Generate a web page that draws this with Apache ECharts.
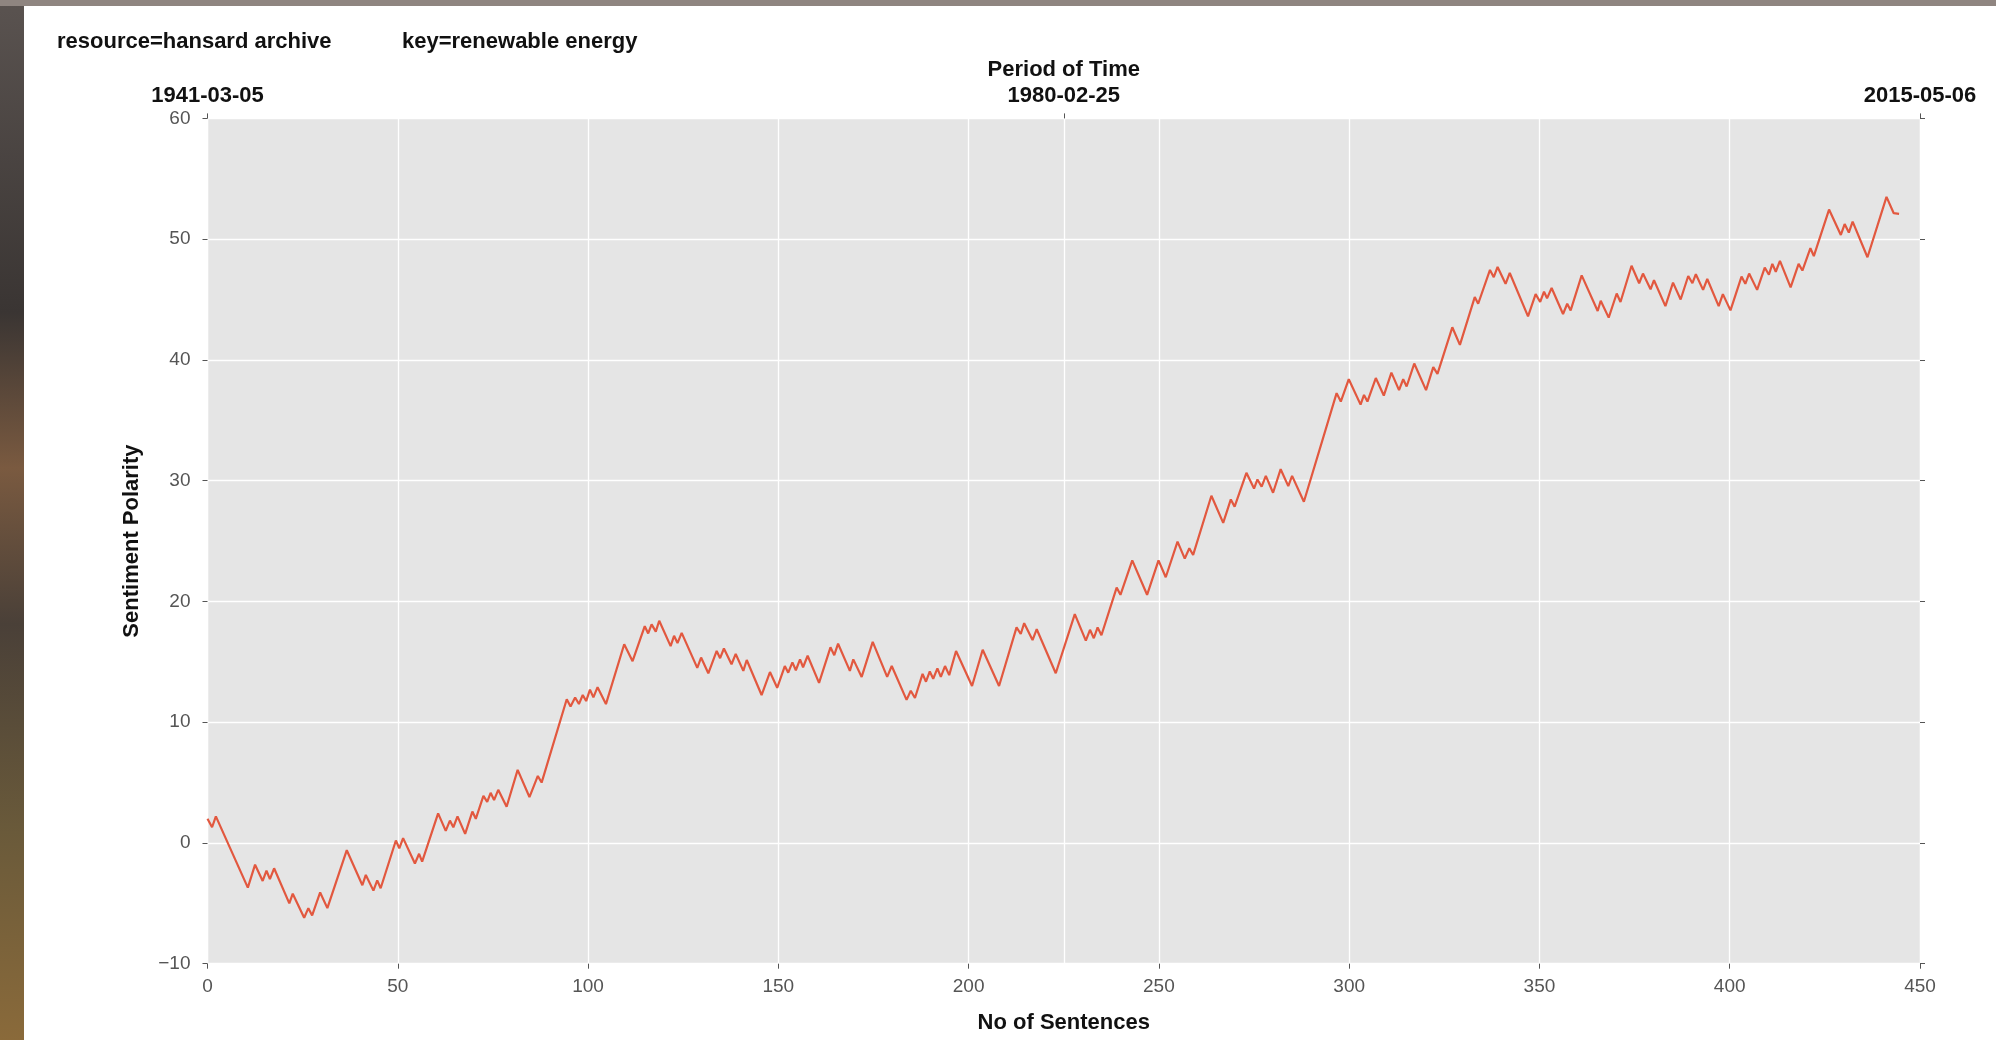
<!DOCTYPE html>
<html>
<head>
<meta charset="utf-8">
<script src="https://cdn.jsdelivr.net/npm/echarts@6/dist/echarts.min.js"></script>
<style>
html,body{margin:0;padding:0;background:#fff;}
#chart{width:1996px;height:1040px;}
</style>
</head>
<body>
<div id="chart"></div>
<script>
// Sentence index (vertices of the cumulative polarity line)
const sentenceIndex = [
0,1.2,2.2,10.6,12.5,14.5,15.5,16.4,17.5,21.5,22.4,25.4,26.5,27.5,29.6,31.5,36.6,40.7,41.6,43.6,44.6,45.5,
49.5,50.4,51.4,54.5,55.6,56.4,60.6,62.6,63.7,64.6,65.7,67.7,69.6,70.5,72.5,73.5,74.4,75.3,76.4,78.6,81.5,84.6,86.8,87.8,
94.4,95.4,96.6,97.6,98.6,99.5,100.5,101.4,102.5,104.7,109.5,111.7,114.9,115.8,116.7,117.8,118.7,121.7,122.6,123.5,124.6,
128.7,129.7,131.6,133.8,134.7,135.7,137.7,138.8,140.8,141.7,145.6,147.8,149.7,151.7,152.6,153.7,154.6,155.7,156.5,157.7,
160.7,163.7,164.7,165.7,168.8,169.7,171.9,174.8,178.6,179.8,183.7,184.8,185.9,187.9,188.8,189.8,190.7,191.8,192.7,193.8,194.9,
196.7,200.9,203.7,208.0,212.6,213.7,214.6,216.8,217.9,222.9,227.9,230.8,231.9,232.9,233.9,234.9,238.9,239.9,243.0,246.9,
249.9,251.8,254.9,256.8,258.0,259.0,263.8,266.9,268.9,269.9,273.0,275.0,275.9,277.0,278.1,280.0,282.0,284.0,285.0,288.1,
296.7,297.8,299.9,303.0,303.9,304.8,307.0,309.1,311.1,313.1,314.2,315.1,317.1,320.2,322.1,323.2,327.1,329.1,333.0,333.9,
337.0,338.0,339.0,341.1,342.2,347.0,349.0,350.2,351.2,352.0,353.2,356.2,357.3,358.2,361.1,365.3,366.1,368.2,370.3,371.3,
374.2,376.2,377.2,379.2,380.1,383.1,385.1,387.1,389.1,390.2,391.1,393.0,394.1,397.1,398.2,400.2,403.1,404.1,405.1,407.2,
409.2,410.3,411.2,412.1,413.2,416.0,418.1,419.1,421.2,422.1,426.1,429.2,430.2,431.3,432.3,436.2,441.2,443.1,444.5
];
// Sentiment polarity at those vertices
const polarity = [
2.0,1.3,2.2,-3.7,-1.8,-3.15,-2.3,-3.0,-2.1,-5.0,-4.2,-6.2,-5.4,-6.0,-4.1,-5.4,-0.6,-3.5,-2.65,-3.95,-3.1,-3.75,
0.2,-0.45,0.4,-1.7,-0.9,-1.55,2.45,1.0,1.85,1.3,2.2,0.75,2.6,2.0,3.9,3.4,4.15,3.55,4.4,3.0,6.05,3.8,5.55,5.0,
11.9,11.3,12.05,11.5,12.25,11.75,12.7,12.05,12.9,11.5,16.45,15.05,17.95,17.35,18.1,17.5,18.4,16.3,17.15,16.55,17.4,
14.5,15.35,14.05,15.9,15.3,16.1,14.8,15.65,14.25,15.15,12.25,14.15,12.85,14.65,14.1,14.95,14.3,15.2,14.55,15.5,
13.25,16.2,15.55,16.5,14.25,15.2,13.75,16.65,13.75,14.65,11.85,12.6,12.0,14.0,13.35,14.2,13.6,14.45,13.75,14.65,13.9,
15.9,13.0,16.0,13.0,17.85,17.3,18.2,16.8,17.7,14.05,18.95,16.75,17.65,16.95,17.85,17.2,21.15,20.55,23.4,20.55,
23.4,22.0,24.95,23.55,24.4,23.85,28.75,26.5,28.45,27.85,30.65,29.35,30.1,29.5,30.4,29.0,30.95,29.55,30.4,28.25,
37.25,36.55,38.4,36.3,37.1,36.55,38.5,37.05,38.95,37.5,38.4,37.8,39.7,37.5,39.4,38.85,42.7,41.25,45.2,44.65,
47.45,46.85,47.7,46.3,47.2,43.6,45.45,44.8,45.65,45.1,45.95,43.8,44.65,44.1,47.0,44.05,44.9,43.5,45.5,44.8,
47.8,46.35,47.15,45.85,46.6,44.45,46.4,45.0,46.95,46.35,47.1,45.8,46.7,44.45,45.45,44.1,46.9,46.3,47.15,45.8,
47.65,47.05,47.95,47.3,48.2,46.0,47.95,47.4,49.25,48.6,52.45,50.35,51.25,50.55,51.45,48.5,53.5,52.15,52.1
];
// Top (time) axis
const timeTickPositions = [0, 225, 450];
const timeTickLabels = ['1941-03-05', '1980-02-25', '2015-05-06'];
const headerTexts = ['resource=hansard archive', 'key=renewable energy'];

const FONT = '"Liberation Sans", Arial, Helvetica, sans-serif';
const chart = echarts.init(document.getElementById('chart'), null, {renderer: 'canvas'});
const lineData = sentenceIndex.map((x, i) => [x, polarity[i]]);

const tickStyle = {show: true, inside: false, length: 5, lineStyle: {color: '#555', width: 1}};
const noLine = {show: false, onZero: false};

chart.setOption({
  animation: false,
  backgroundColor: '#ffffff',
  title: [
    {text: headerTexts[0], left: 57, top: 31, padding: 0,
     textStyle: {fontFamily: FONT, fontSize: 22, fontWeight: 'bold', color: '#111'}},
    {text: headerTexts[1], left: 402, top: 31, padding: 0,
     textStyle: {fontFamily: FONT, fontSize: 22, fontWeight: 'bold', color: '#111'}}
  ],
  grid: {left: 207.5, right: 76, top: 118.4, bottom: 76.3, show: true,
         backgroundColor: '#E5E5E5', borderWidth: 0},
  xAxis: [
    {type: 'value', position: 'bottom', min: 0, max: 450, interval: 50,
     name: 'No of Sentences', nameLocation: 'middle', nameGap: 48,
     nameTextStyle: {fontFamily: FONT, fontSize: 22, fontWeight: 'bold', color: '#111'},
     axisLine: noLine, axisTick: tickStyle,
     axisLabel: {fontFamily: FONT, fontSize: 19, color: '#555', margin: 14},
     splitLine: {show: true, lineStyle: {color: '#ffffff', width: 1.3}}},
    {type: 'value', position: 'top', min: 0, max: 450, interval: 225,
     name: 'Period of Time', nameLocation: 'middle', nameGap: 32,
     nameTextStyle: {fontFamily: FONT, fontSize: 22, fontWeight: 'bold', color: '#111'},
     axisLine: noLine, axisTick: tickStyle,
     axisLabel: {fontFamily: FONT, fontSize: 22, fontWeight: 'bold', color: '#111', margin: 11,
       formatter: v => timeTickLabels[timeTickPositions.indexOf(v)] || ''},
     splitLine: {show: true, lineStyle: {color: '#ffffff', width: 1.3}}}
  ],
  yAxis: [
    {type: 'value', position: 'left', min: -10, max: 60, interval: 10,
     name: 'Sentiment Polarity', nameLocation: 'middle', nameGap: 65, nameRotate: 90,
     nameTextStyle: {fontFamily: FONT, fontSize: 22, fontWeight: 'bold', color: '#111'},
     axisLine: noLine, axisTick: tickStyle,
     axisLabel: {fontFamily: FONT, fontSize: 19, color: '#555', margin: 17,
       formatter: v => v < 0 ? '\u2212' + Math.abs(v) : String(v)},
     splitLine: {show: true, lineStyle: {color: '#ffffff', width: 1.3}}},
    {type: 'value', position: 'right', min: -10, max: 60, interval: 10,
     axisLine: noLine, axisTick: tickStyle, axisLabel: {show: false},
     splitLine: {show: false}}
  ],
  series: [{
    type: 'line', xAxisIndex: 0, yAxisIndex: 0, data: lineData,
    showSymbol: false, symbol: 'none',
    lineStyle: {color: '#E2583F', width: 2.2}
  }],
  graphic: [
    {type: 'rect', shape: {x: 0, y: 0, width: 24, height: 1040}, silent: true, z: -1,
     style: {fill: new echarts.graphic.LinearGradient(0, 0, 0, 1, [
       {offset: 0, color: '#5a5350'}, {offset: 0.3, color: '#3a3533'},
       {offset: 0.45, color: '#7a5a40'}, {offset: 0.6, color: '#4a4038'},
       {offset: 0.8, color: '#6a5a3a'}, {offset: 1, color: '#8a6a3a'}])}},
    {type: 'rect', shape: {x: 0, y: 0, width: 1996, height: 6}, silent: true, z: -1,
     style: {fill: '#8f8580'}}
  ]
});
</script>
</body>
</html>
